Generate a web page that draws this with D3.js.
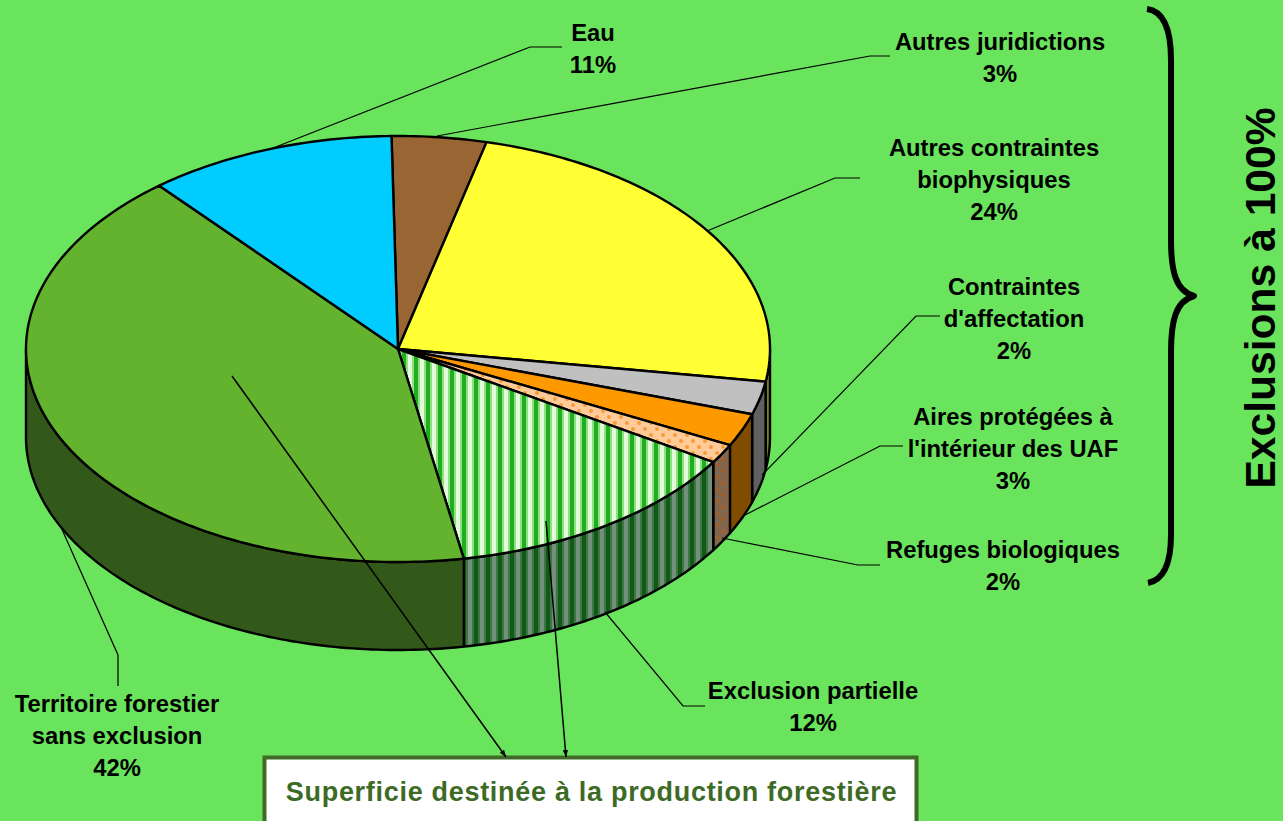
<!DOCTYPE html>
<html>
<head>
<meta charset="utf-8">
<script src="https://cdn.jsdelivr.net/npm/d3@7"></script>
<style>
  html, body { margin: 0; padding: 0; background: #69e45c; overflow: hidden; }
  svg { display: block; }
  text { font-family: "Liberation Sans", Arial, sans-serif; font-weight: bold; }
</style>
</head>
<body>
<div id="app"></div>
<script>
// slices, clockwise from the top (%)
let categories = ["Autres juridictions", "Autres contraintes biophysiques", "Contraintes d'affectation",
    "Aires protégées à l'intérieur des UAF", "Refuges biologiques", "Exclusion partielle",
    "Territoire forestier sans exclusion", "Eau"]
let values = [4.1, 23.6, 2.5, 2.5, 1.45, 13.25, 41.7, 10.8]
let printed = ["3%", "24%", "2%", "3%", "2%", "12%", "42%", "11%"]
let topFills = ["#996633", "#ffff33", "#c0c0c0", "#ff9900", "url(#dots)", "url(#stripes)", "#63b32e", "#00ccff"]
let sideFills = ["#4d3319", "#808019", "#606060", "#7f4c00", "url(#dotsDark)", "url(#stripesDark)", "#33591a", "#006680"]

let width = 1283
let height = 821
let cx = 398, cy = 349, rx = 372, ry = 213, depth = 88

let svg = d3.select("#app").append("svg")
    .attr("width", width)
    .attr("height", height)

let defs = svg.append("defs")

function stripes(id, bands) {
    let total = d3.sum(bands, b => b[1])
    let p = defs.append("pattern").attr("id", id)
        .attr("patternUnits", "userSpaceOnUse")
        .attr("width", total).attr("height", 10)
    let at = 0
    bands.forEach(b => {
        p.append("rect").attr("x", at).attr("width", b[1]).attr("height", 10).attr("fill", b[0])
        at += b[1]
    })
}
stripes("stripes", [["#e2fbd9", 4], ["#8fe080", 2], ["#1fae1f", 4], ["#8fe080", 2]])
stripes("stripesDark", [["#72907a", 4], ["#3f7546", 2], ["#0f5a14", 4], ["#3f7546", 2]])

function dots(id, bg, dot) {
    let p = defs.append("pattern").attr("id", id)
        .attr("patternUnits", "userSpaceOnUse")
        .attr("width", 12).attr("height", 12)
    p.append("rect").attr("width", 12).attr("height", 12).attr("fill", bg)
    p.append("circle").attr("cx", 3).attr("cy", 3).attr("r", 2).attr("fill", dot)
    p.append("circle").attr("cx", 9).attr("cy", 9).attr("r", 2).attr("fill", dot)
}
dots("dots", "#ffcc99", "#f79a3c")
dots("dotsDark", "#80664c", "#a85f28")

// unit circle -> flattened ellipse
let x = d3.scaleLinear().domain([-1, 1]).range([cx - rx, cx + rx])
let y = d3.scaleLinear().domain([-1, 1]).range([cy - ry, cy + ry])

let pie = d3.pie().sort(null)
    .startAngle(-1 * Math.PI / 180)
    .endAngle(359 * Math.PI / 180)

let slices = pie(values).map((d, i) => ({...d, i: i}))

function arcPoints(a0, a1, drop) {
    let n = Math.max(2, Math.ceil(Math.abs(a1 - a0) * 60))
    return d3.range(n + 1).map(k => {
        let a = a0 + (a1 - a0) * k / n
        return [x(Math.sin(a)), y(-Math.cos(a)) + drop]
    })
}
let line = d3.line()

// side wall: only the front half of the ellipse can be seen
function wallPath(d) {
    let a0 = Math.max(d.startAngle, Math.PI / 2)
    let a1 = Math.min(d.endAngle, 3 * Math.PI / 2)
    if (a1 <= a0) return null
    return line(arcPoints(a0, a1, 0).concat(arcPoints(a1, a0, depth))) + "Z"
}
function topPath(d) {
    return line([[x(0), y(0)]].concat(arcPoints(d.startAngle, d.endAngle, 0))) + "Z"
}

svg.append("g").selectAll("path")
    .data(slices.filter(d => wallPath(d)))
    .enter().append("path")
    .attr("d", wallPath)
    .attr("fill", d => sideFills[d.i])
    .attr("stroke", "#000")
    .attr("stroke-width", 2.4)
    .attr("stroke-linejoin", "round")

svg.append("g").selectAll("path")
    .data(slices)
    .enter().append("path")
    .attr("d", topPath)
    .attr("fill", d => topFills[d.i])
    .attr("stroke", "#000")
    .attr("stroke-width", 2.4)
    .attr("stroke-linejoin", "round")

// leader lines, same order as categories
let leaders = [
    [[437, 136], [870, 56], [890, 56]],
    [[707, 231], [835, 178], [860, 178]],
    [[762, 475], [916, 316], [940, 316]],
    [[745, 515], [880, 446], [903, 446]],
    [[722, 538], [858, 565], [880, 565]],
    [[605, 612], [683, 706], [705, 706]],
    [[60, 525], [118, 655], [118, 686]],
    [[268, 150], [530, 47], [562, 47]]
]
svg.append("g").selectAll("path")
    .data(leaders)
    .enter().append("path")
    .attr("d", d => line(d))
    .attr("fill", "none")
    .attr("stroke", "#000")
    .attr("stroke-width", 1.2)

// label text lines, same order as categories
let labelLines = [
    ["Autres juridictions"],
    ["Autres contraintes", "biophysiques"],
    ["Contraintes", "d'affectation"],
    ["Aires protégées à", "l'intérieur des UAF"],
    ["Refuges biologiques"],
    ["Exclusion partielle"],
    ["Territoire forestier", "sans exclusion"],
    ["Eau"]
]
let labelAnchors = [[1000, 50], [994, 156], [1014, 295], [1013, 425], [1003, 558], [813, 699], [117, 712], [593, 41]]

let labels = svg.append("g").selectAll("text")
    .data(categories)
    .enter().append("text")
    .attr("text-anchor", "middle")
    .attr("font-size", 23.8)
    .attr("fill", "#000")
    .attr("transform", (d, i) => "translate(" + labelAnchors[i] + ")")

labels.selectAll("tspan")
    .data((d, i) => labelLines[i].concat(printed[i]))
    .enter().append("tspan")
    .attr("x", 0)
    .attr("y", (d, k) => k * 32)
    .text(d => d)

// box at the bottom, with its two arrows
svg.append("rect")
    .attr("x", 264.5).attr("y", 757.5)
    .attr("width", 652).attr("height", 80)
    .attr("fill", "#fff")
    .attr("stroke", "#3f6b27")
    .attr("stroke-width", 4)

svg.append("text")
    .attr("x", 591.5).attr("y", 801)
    .attr("text-anchor", "middle")
    .attr("font-size", 27)
    .attr("letter-spacing", 0.7)
    .attr("fill", "#3d6b25")
    .text("Superficie destinée à la production forestière")

defs.append("marker").attr("id", "head")
    .attr("viewBox", "0 0 8 8").attr("refX", 8).attr("refY", 4)
    .attr("markerWidth", 7).attr("markerHeight", 7)
    .attr("markerUnits", "userSpaceOnUse")
    .attr("orient", "auto")
    .append("path").attr("d", "M0,1L8,4L0,7Z").attr("fill", "#000")

let arrows = [
    [[232, 376], [506, 757]],
    [[546, 521], [566, 757]]
]
svg.append("g").selectAll("path")
    .data(arrows)
    .enter().append("path")
    .attr("d", d => line(d))
    .attr("stroke", "#000")
    .attr("stroke-width", 1.5)
    .attr("marker-end", "url(#head)")

// brace on the right
svg.append("path")
    .attr("d", "M1147,9C1163,11 1171,28 1171,60L1171,240C1171,272 1176,291 1194,296C1176,301 1171,320 1171,352L1171,535C1171,565 1163,580 1148,583")
    .attr("fill", "none")
    .attr("stroke", "#000")
    .attr("stroke-width", 6)
    .attr("stroke-linejoin", "round")

svg.append("text")
    .attr("transform", "translate(1275,298) rotate(-90)")
    .attr("text-anchor", "middle")
    .attr("font-size", 42.6)
    .attr("fill", "#000")
    .text("Exclusions à 100%")
</script>
</body>
</html>
